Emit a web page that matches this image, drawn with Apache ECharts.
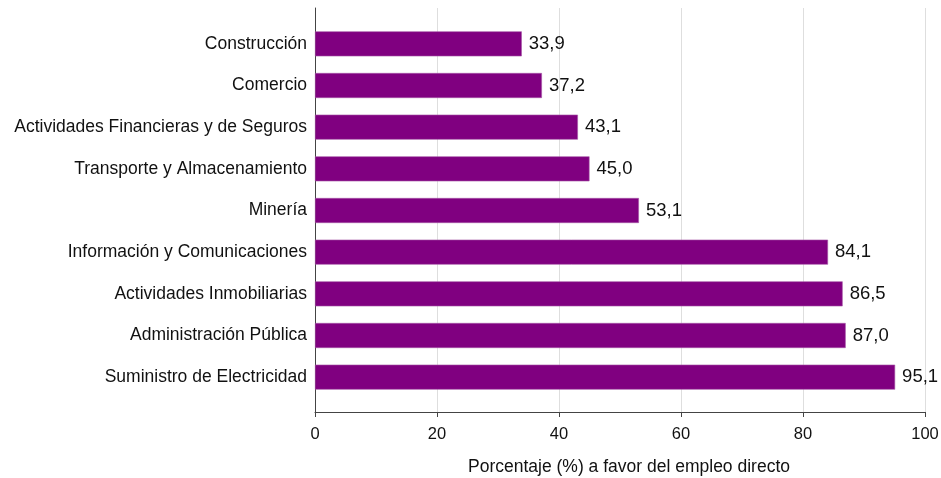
<!DOCTYPE html>
<html><head><meta charset="utf-8">
<script src="https://cdn.jsdelivr.net/npm/echarts@6/dist/echarts.min.js"></script>
<style>html,body{margin:0;padding:0;background:#fff}#c{width:941px;height:478px}</style>
</head><body><div id="c"></div>
<script>
const categories = ["Construcción","Comercio","Actividades Financieras y de Seguros","Transporte y Almacenamiento","Minería","Información y Comunicaciones","Actividades Inmobiliarias","Administración Pública","Suministro de Electricidad"];
const values = [33.9,37.2,43.1,45.0,53.1,84.1,86.5,87.0,95.1];
const xTicks = [0,20,40,60,80,100];
const axisName = "Porcentaje (%) a favor del empleo directo";

const font = "Liberation Sans, Arial, sans-serif";
const chart = echarts.init(document.getElementById('c'));
chart.setOption({
  animation:false,
  grid:[
    {left:315,right:16,top:8,bottom:66,outerBoundsMode:'none',containLabel:false},
    {left:315,right:16,top:23,bottom:80,outerBoundsMode:'none',containLabel:false}
  ],
  xAxis:[
    {gridIndex:0,type:'value',min:xTicks[0],max:xTicks[xTicks.length-1],interval:20,
     axisLine:{show:true,lineStyle:{color:'#444',width:1}},
     axisTick:{show:true,length:5,lineStyle:{color:'#444'}},
     axisLabel:{color:'#111',fontSize:16.5,fontFamily:font,margin:14},
     splitLine:{show:true,lineStyle:{color:'#dedede',width:1}},
     name:axisName,nameLocation:'middle',nameGap:46,
     nameTextStyle:{color:'#111',fontSize:17.5,fontFamily:font,padding:[0,0,0,18]}},
    {gridIndex:1,type:'value',min:0,max:100,show:false}
  ],
  yAxis:[
    {gridIndex:0,type:'value',min:0,max:1,axisLine:{show:true,lineStyle:{color:'#444',width:1}},
     axisTick:{show:false},axisLabel:{show:false},splitLine:{show:false}},
    {gridIndex:1,type:'category',data:categories,inverse:true,
     axisLine:{show:false},axisTick:{show:false},
     axisLabel:{color:'#111',fontSize:17.5,fontFamily:font,margin:8,padding:[4,0,0,0]}}
  ],
  series:[{
    type:'bar',xAxisIndex:1,yAxisIndex:1,data:values,barWidth:25,
    itemStyle:{color:'#800080',borderColor:'#a656a6',borderWidth:0.6},
    label:{show:true,position:'right',distance:7,color:'#111',fontSize:18.5,fontFamily:font,
      padding:[4,0,0,0],
      formatter:p=>p.value.toFixed(1).replace('.',',')}
  }]
});
</script></body></html>
